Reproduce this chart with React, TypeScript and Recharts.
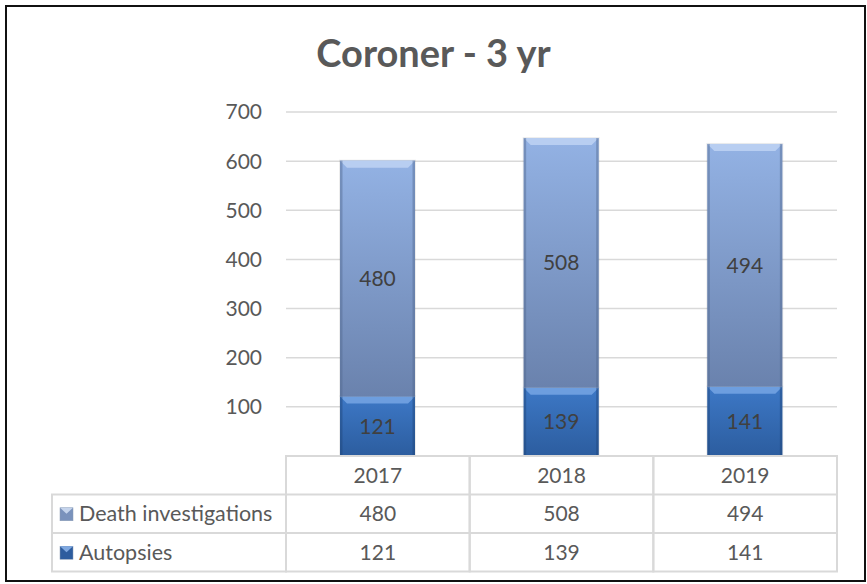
import React from "react";
import { BarChart, Bar, XAxis, YAxis, CartesianGrid, LabelList } from "recharts";

const years = ["2017", "2018", "2019"];
const deathInvestigations = [480, 508, 494];
const autopsies = [121, 139, 141];
const yTicks = [100, 200, 300, 400, 500, 600, 700];
const seriesNames = ["Death investigations", "Autopsies"];

const data = years.map((year, i) => ({
  year,
  autopsies: autopsies[i],
  death: deathInvestigations[i],
}));

const W = 867;
const H = 584;
const PLOT_LEFT = 286;
const PLOT_RIGHT = 837;
const PLOT_TOP = 112;
const TABLE_TOP = 456;
const ROW_H = 38.5;
const COL_W = (PLOT_RIGHT - PLOT_LEFT) / years.length;
const LABEL_LEFT = 52;
const FONT = "Lato, 'Open Sans', sans-serif";
const TEXT = "#595959";
const GRID = "#D9D9D9";

const makeBar = (grad: string, bevel: string, edge: string) => (props: any) => {
  const { x, y, width, height } = props;
  if (!height || height <= 0) return null;
  const b = Math.min(7, height / 2);
  return (
    <g>
      <rect x={x - 1} y={y - 1} width={width + 2} height={height + 1} fill="#000" opacity={0.07} />
      <rect x={x} y={y} width={width} height={height} fill={`url(#${grad})`} />
      <polygon
        points={`${x},${y} ${x + width},${y} ${x + width - b},${y + b} ${x + b},${y + b}`}
        fill={bevel}
      />
      <rect x={x} y={y} width={2.5} height={height} fill={edge} opacity={0.45} />
      <rect x={x + width - 2.5} y={y} width={2.5} height={height} fill={edge} opacity={0.45} />
    </g>
  );
};

const DeathBar = makeBar("gDeath", "#B8CEF1", "#52698F");
const AutopsyBar = makeBar("gAut", "#6D9EDF", "#1F4477");

const rowValues = [deathInvestigations, autopsies];

const LegendIcon = ({ x, y, color, light }: any) => (
  <g>
    <rect x={x} y={y} width={13} height={13} fill={color} stroke="#8A9BB5" strokeWidth={0.5} />
    <polygon points={`${x},${y} ${x + 13},${y} ${x + 6.5},${y + 6}`} fill={light} />
  </g>
);

const TableTick = (props: any) => {
  const { x, payload, index } = props;
  const left = x - COL_W / 2;
  const cellText = (txt: any, row: number, cx: number) => (
    <text
      x={cx}
      y={TABLE_TOP + ROW_H * row + ROW_H / 2}
      dy="0.36em"
      textAnchor="middle"
      fill={TEXT}
      fontSize={21}
      fontFamily={FONT}
    >
      {txt}
    </text>
  );
  return (
    <g>
      <rect x={left} y={TABLE_TOP} width={COL_W} height={ROW_H * 3} fill="none" stroke={GRID} strokeWidth={2} />
      <line x1={left} x2={left + COL_W} y1={TABLE_TOP + ROW_H} y2={TABLE_TOP + ROW_H} stroke={GRID} strokeWidth={2} />
      <line x1={left} x2={left + COL_W} y1={TABLE_TOP + ROW_H * 2} y2={TABLE_TOP + ROW_H * 2} stroke={GRID} strokeWidth={2} />
      {cellText(payload.value, 0, x)}
      {cellText(rowValues[0][index], 1, x)}
      {cellText(rowValues[1][index], 2, x)}
      {index === 0 && (
        <g>
          <rect
            x={LABEL_LEFT}
            y={TABLE_TOP + ROW_H}
            width={PLOT_LEFT - LABEL_LEFT}
            height={ROW_H * 2}
            fill="none"
            stroke={GRID}
            strokeWidth={2}
          />
          <line
            x1={LABEL_LEFT}
            x2={PLOT_LEFT}
            y1={TABLE_TOP + ROW_H * 2}
            y2={TABLE_TOP + ROW_H * 2}
            stroke={GRID}
            strokeWidth={2}
          />
          <LegendIcon x={60} y={TABLE_TOP + ROW_H * 1.5 - 6} color="#7A92BC" light="#C5D4EC" />
          <LegendIcon x={60} y={TABLE_TOP + ROW_H * 2.5 - 6} color="#2D5C9E" light="#7FA8E0" />
          {seriesNames.map((name, r) => (
            <text
              key={name}
              x={79}
              y={TABLE_TOP + ROW_H * (r + 1) + ROW_H / 2}
              dy="0.36em"
              fill={TEXT}
              fontSize={21.5}
              fontFamily={FONT}
            >
              {name}
            </text>
          ))}
        </g>
      )}
    </g>
  );
};

export default function App() {
  return (
    <div style={{ position: "absolute", left: 0, top: 0, width: W, height: H, background: "#fff", fontFamily: FONT }}>
      <div
        style={{
          position: "absolute",
          left: 5,
          top: 5,
          width: 861,
          height: 577,
          border: "2px solid #111",
          boxSizing: "border-box",
        }}
      />
      <div
        style={{
          position: "absolute",
          left: 0,
          width: W,
          top: 30,
          textAlign: "center",
          fontSize: 38,
          fontWeight: 700,
          color: TEXT,
          lineHeight: "44px",
        }}
      >
        Coroner - 3 yr
      </div>
      <div style={{ position: "absolute", left: 0, top: 0 }}>
        <BarChart
          width={W}
          height={H}
          data={data}
          margin={{ top: PLOT_TOP, right: W - PLOT_RIGHT, bottom: H - TABLE_TOP - 115, left: 0 }}
          barSize={75}
        >
          <defs>
            <linearGradient id="gDeath" x1="0" y1="0" x2="0" y2="1">
              <stop offset="0%" stopColor="#93B2E4" />
              <stop offset="100%" stopColor="#6A82AD" />
            </linearGradient>
            <linearGradient id="gAut" x1="0" y1="0" x2="0" y2="1">
              <stop offset="0%" stopColor="#3D78C6" />
              <stop offset="100%" stopColor="#2C5D9F" />
            </linearGradient>
          </defs>
          <CartesianGrid vertical={false} stroke={GRID} strokeWidth={1.5} horizontalValues={yTicks} />
          <XAxis
            dataKey="year"
            height={115}
            axisLine={false}
            tickLine={false}
            tick={<TableTick />}
            interval={0}
          />
          <YAxis
            width={PLOT_LEFT}
            domain={[0, 700]}
            ticks={yTicks}
            axisLine={false}
            tickLine={false}
            tickMargin={18}
            tick={{ fill: TEXT, fontSize: 21, fontFamily: FONT }}
          />
          <Bar dataKey="autopsies" stackId="a" shape={AutopsyBar} isAnimationActive={false}>
            <LabelList dataKey="autopsies" position="center" fill="#404040" fontSize={21} fontFamily={FONT} />
          </Bar>
          <Bar dataKey="death" stackId="a" shape={DeathBar} isAnimationActive={false}>
            <LabelList dataKey="death" position="center" fill="#404040" fontSize={21} fontFamily={FONT} />
          </Bar>
        </BarChart>
      </div>
    </div>
  );
}
